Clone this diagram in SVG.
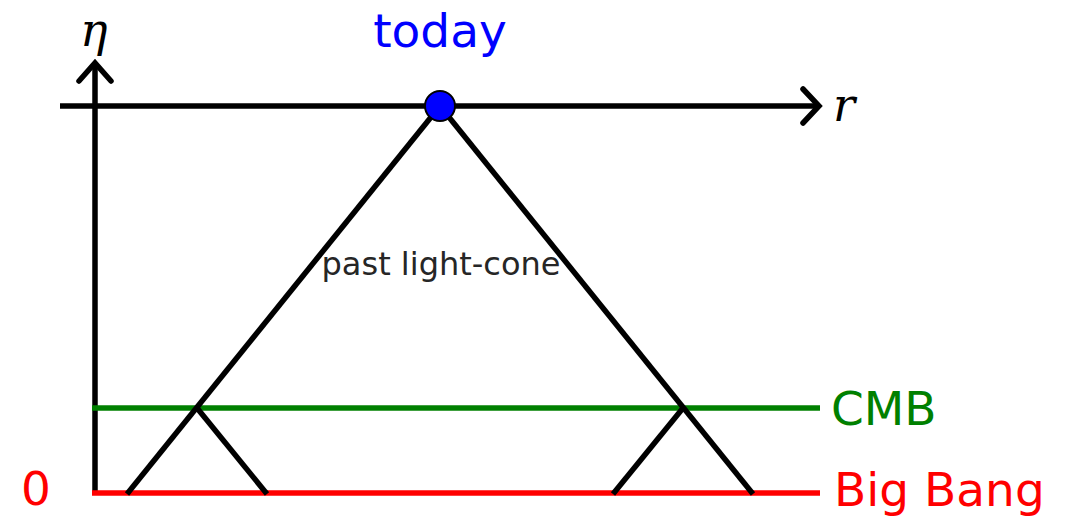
<svg xmlns="http://www.w3.org/2000/svg" width="1068" height="517" viewBox="0 0 1068 517">
<style>
.ln{stroke:#000;stroke-width:5.5;fill:none;stroke-linecap:butt}
.ax{stroke:#000;stroke-width:5.5;fill:none;stroke-linecap:round;stroke-linejoin:miter}
.lbl{font-family:"DejaVu Sans",sans-serif;font-size:47px}
.math{font-family:"DejaVu Serif","Liberation Serif",serif;font-style:italic;font-size:46px}
</style>
<rect width="1068" height="517" fill="#fff"/>
<g id="axes">
<line class="ln" x1="95" y1="493" x2="95" y2="64"/>
<polyline class="ax" points="79,81 95,63 111,81"/>
<line class="ln" x1="60" y1="106" x2="818" y2="106"/>
<polyline class="ax" points="803,89 819,106 803,123"/>
<text class="math" x="80" y="46">η</text>
<text class="math" x="833" y="121">r</text>
</g>
<g id="cmb">
<line x1="92" y1="408" x2="820" y2="408" stroke="#008000" stroke-width="5.5"/>
<text class="lbl" x="831" y="425" fill="#008000">CMB</text>
</g>
<g id="bigbang">
<line x1="92" y1="493" x2="820" y2="493" stroke="#ff0000" stroke-width="5.5"/>
<text class="lbl" x="834" y="506" fill="#ff0000">Big Bang</text>
<text class="lbl" x="36" y="505" fill="#ff0000" text-anchor="middle">0</text>
</g>
<g id="connectors">
<line class="ln" x1="440" y1="106" x2="127" y2="494"/>
<line class="ln" x1="440" y1="106" x2="753" y2="494"/>
<line class="ln" x1="197" y1="408" x2="267" y2="494"/>
<line class="ln" x1="683" y1="408" x2="613" y2="494"/>
</g>
<g id="lightcone">
<text x="441" y="275" font-family="DejaVu Sans,sans-serif" font-size="32" fill="#262626" text-anchor="middle">past light-cone</text>
</g>
<g id="today">
<circle cx="440" cy="106" r="15" fill="#0000ff" stroke="#000" stroke-width="2"/>
<text class="lbl" x="440" y="47" fill="#0000ff" text-anchor="middle">today</text>
</g>
</svg>
